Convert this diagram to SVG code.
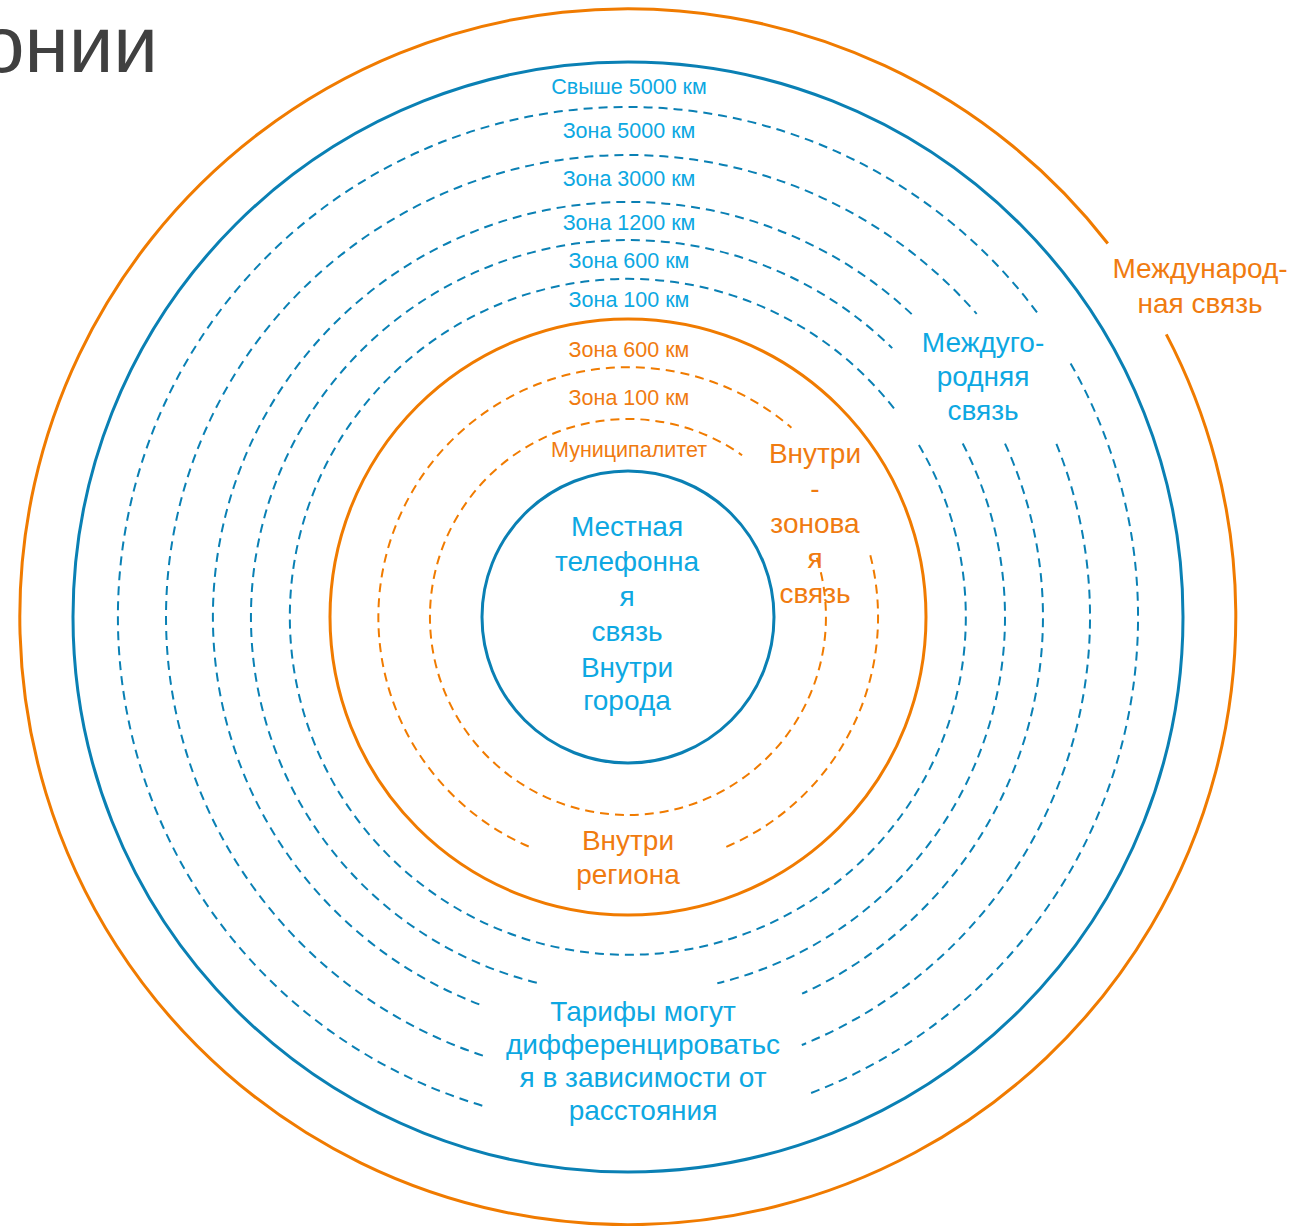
<svg xmlns="http://www.w3.org/2000/svg" width="1312" height="1226" viewBox="0 0 1312 1226">
<style>
text{font-family:"Liberation Sans",Arial,sans-serif;text-anchor:middle}
.title{font-size:80px;fill:#404040;text-anchor:end}
.sm{font-size:21.5px}
.lg{font-size:28px}
.bt{fill:#0DA8E2}
.ot{fill:#F07B10}
.ring{fill:none}
.bs{stroke:#0A80B4;stroke-width:3}
.os{stroke:#F07B00;stroke-width:3}
.bd{stroke:#0A80B4;stroke-width:2;stroke-dasharray:9 6}
.od{stroke:#F07B00;stroke-width:2;stroke-dasharray:9 6}
</style>
<rect width="1312" height="1226" fill="#fff"/>
<text class="title" x="158" y="72">онии</text>

<g id="ring-international" class="ring">
<path class="os" d="M1166.3,334.4 A608,608 0 1 1 1107.8,243.5"/>
</g>
<g id="ring-longdistance" class="ring">
<circle class="bs" cx="628" cy="617" r="555"/>
</g>
<g id="zones-longdistance" class="ring">
<path class="bd" d="M1070.6,363.5 A510,510 0 0 1 806.6,1094.7 M482.3,1105.7 A510,510 0 1 1 1039,315.1"/>
<path class="bd" d="M1056.4,443.9 A462,462 0 0 1 801.8,1045 M482.9,1055.6 A462,462 0 1 1 976.7,313.9"/>
<path class="bd" d="M1005,443.6 A415,415 0 0 1 802.1,993.7 M479.3,1004.4 A415,415 0 1 1 912.1,314.5"/>
<path class="bd" d="M962.7,443.5 A377,377 0 0 1 717.3,983.3 M536.8,982.8 A377,377 0 1 1 892.2,348.1"/>
<path class="bd" d="M918.9,445 A338,338 0 1 1 895.4,410.3"/>
</g>
<g id="ring-region" class="ring">
<circle class="os" cx="628" cy="617" r="298"/>
</g>
<g id="zones-region" class="ring">
<path class="od" d="M870.3,555.2 A250,250 0 0 1 725.3,847.3 M528.7,846.5 A250,250 0 1 1 791.4,427.7"/>
<path class="od" d="M816.9,557.8 A198,198 0 1 1 742.1,455.2"/>
</g>
<g id="ring-local" class="ring">
<circle class="bs" cx="628" cy="617" r="146"/>
</g>

<g id="zone-labels">
<text class="sm bt" x="629" y="94">Свыше 5000 км</text>
<text class="sm bt" x="629" y="138">Зона 5000 км</text>
<text class="sm bt" x="629" y="186">Зона 3000 км</text>
<text class="sm bt" x="629" y="230">Зона 1200 км</text>
<text class="sm bt" x="629" y="268">Зона 600 км</text>
<text class="sm bt" x="629" y="307">Зона 100 км</text>
<text class="sm ot" x="629" y="357">Зона 600 км</text>
<text class="sm ot" x="629" y="405">Зона 100 км</text>
<text class="sm ot" x="629" y="457">Муниципалитет</text>
</g>

<g id="label-international">
<text class="lg ot" x="1200" y="278">Международ-</text>
<text class="lg ot" x="1200" y="313">ная связь</text>
</g>
<g id="label-longdistance">
<text class="lg bt" x="983" y="352">Междуго-</text>
<text class="lg bt" x="983" y="386">родняя</text>
<text class="lg bt" x="983" y="420">связь</text>
</g>
<g id="label-intrazone">
<text class="lg ot" x="815" y="463">Внутри</text>
<text class="lg ot" x="815" y="498">-</text>
<text class="lg ot" x="815" y="533">зонова</text>
<text class="lg ot" x="815" y="568">я</text>
<text class="lg ot" x="815" y="603">связь</text>
</g>
<g id="label-region">
<text class="lg ot" x="628" y="850">Внутри</text>
<text class="lg ot" x="628" y="884">региона</text>
</g>
<g id="label-local">
<text class="lg bt" x="627" y="536">Местная</text>
<text class="lg bt" x="627" y="571">телефонна</text>
<text class="lg bt" x="627" y="606">я</text>
<text class="lg bt" x="627" y="641">связь</text>
<text class="lg bt" x="627" y="677">Внутри</text>
<text class="lg bt" x="627" y="710">города</text>
</g>
<g id="label-tariffs">
<text class="lg bt" x="643" y="1021">Тарифы могут</text>
<text class="lg bt" x="643" y="1054">дифференцироватьс</text>
<text class="lg bt" x="643" y="1087">я в зависимости от</text>
<text class="lg bt" x="643" y="1120">расстояния</text>
</g>
<g id="connectors"/>
</svg>
